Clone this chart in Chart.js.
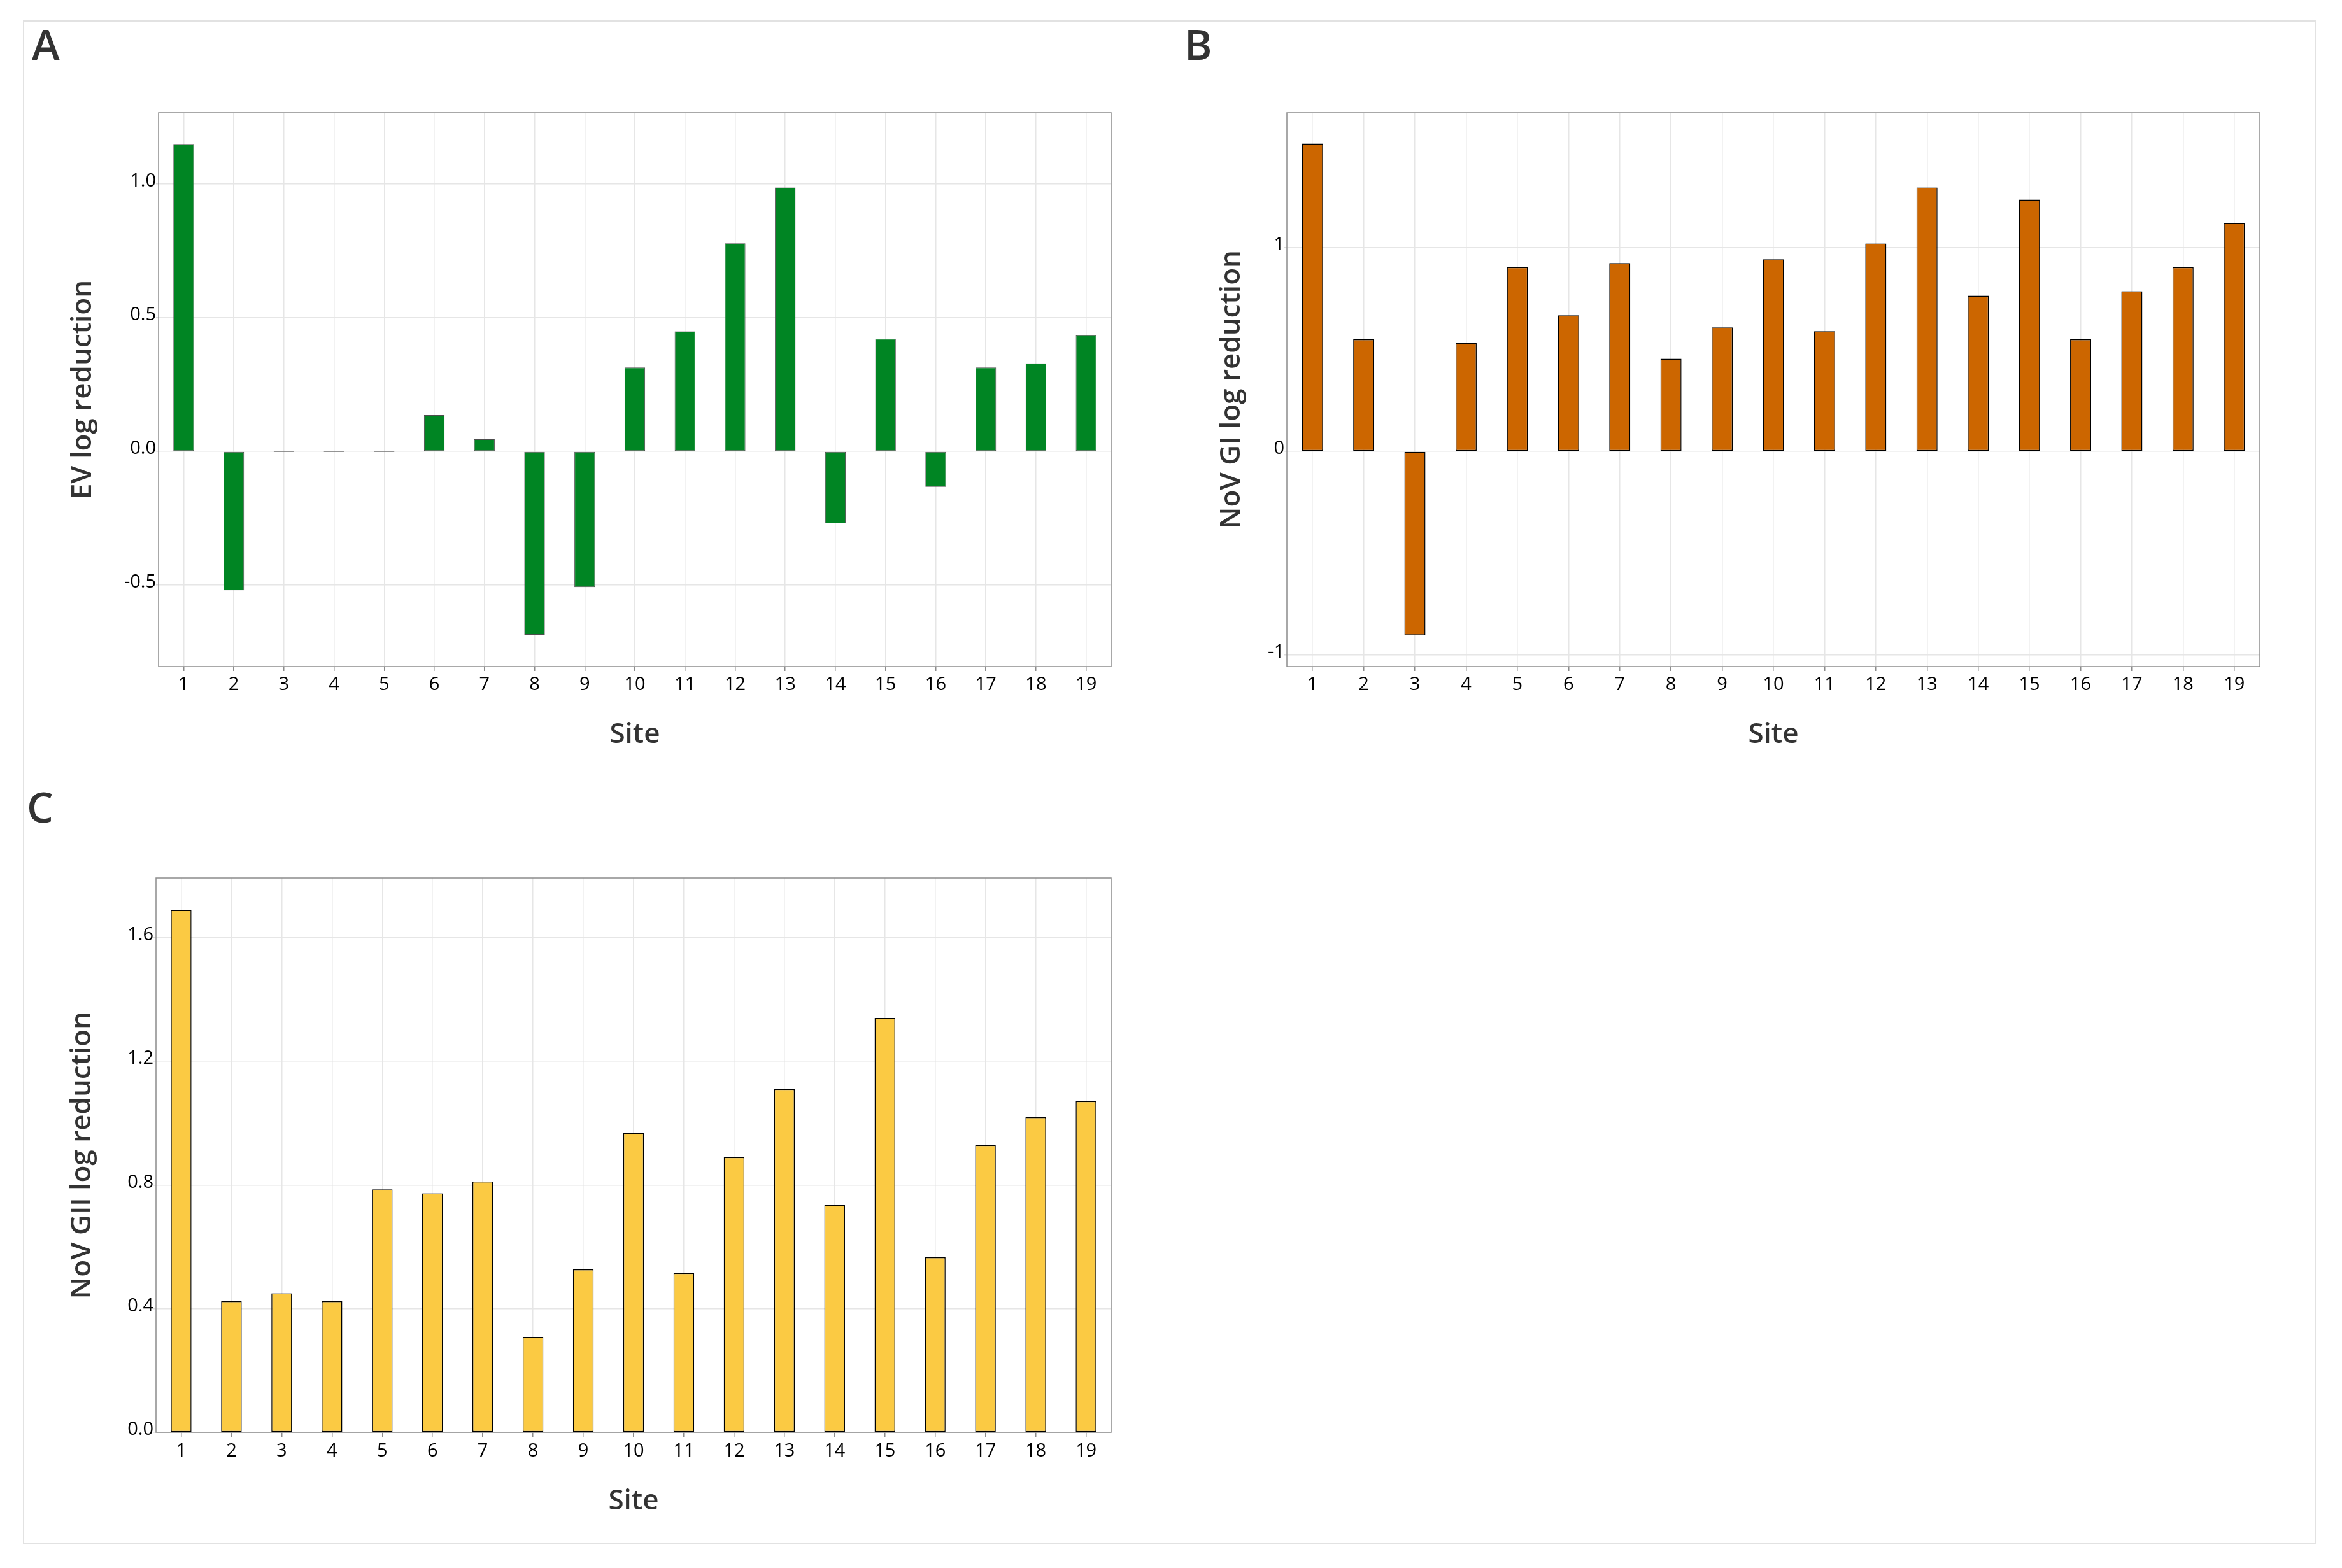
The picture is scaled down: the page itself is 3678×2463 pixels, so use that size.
<!DOCTYPE html>
<html>
<head>
<meta charset="utf-8">
<script src="https://cdn.jsdelivr.net/npm/chart.js@4.4.1/dist/chart.umd.min.js"></script>
<style>
  html, body { margin: 0; padding: 0; background: #ffffff; width: 3678px; height: 2463px; overflow: hidden; }
  .frame { position: absolute; left: 36px; top: 32px; width: 3601px; height: 2394px; border: 2px solid #e2e2e2; box-sizing: border-box; }
  .plabel { position: absolute; font-family: 'Open Sans', 'Noto Sans', sans-serif; font-weight: 600; font-size: 66px; line-height: 1; color: #333333; }
  canvas { position: absolute; }
</style>
</head>
<body>
<div class="frame"></div>
<div class="plabel" style="left:50px; top:35px;">A</div>
<div class="plabel" style="left:1860px; top:35px;">B</div>
<div class="plabel" style="left:42px; top:1233px;">C</div>
<canvas id="chartA" style="left:40px; top:140px; width:1780px; height:1080px;" width="1780" height="1080"></canvas>
<canvas id="chartB" style="left:1820px; top:140px; width:1800px; height:1080px;" width="1800" height="1080"></canvas>
<canvas id="chartC" style="left:40px; top:1340px; width:1780px; height:1080px;" width="1780" height="1080"></canvas>
<script>
// ---- data ----
const sites = ['1','2','3','4','5','6','7','8','9','10','11','12','13','14','15','16','17','18','19'];
const evValues = [1.15, -0.52, 0, 0, 0, 0.136, 0.045, -0.686, -0.508, 0.314, 0.449, 0.778, 0.987, -0.269, 0.421, -0.133, 0.314, 0.329, 0.434];
const novGIValues = [1.511, 0.550, -0.902, 0.531, 0.904, 0.668, 0.924, 0.455, 0.609, 0.943, 0.590, 1.020, 1.295, 0.764, 1.236, 0.550, 0.786, 0.904, 1.120];
const novGIIValues = [1.689, 0.424, 0.450, 0.424, 0.786, 0.773, 0.811, 0.309, 0.527, 0.968, 0.515, 0.890, 1.110, 0.735, 1.340, 0.566, 0.929, 1.019, 1.071];
const evTicks = [-0.5, 0, 0.5, 1.0];
const novGITicks = [-1, 0, 1];
const novGIITicks = [0, 0.4, 0.8, 1.2, 1.6];
const xTitle = 'Site';

Chart.defaults.font.family = "'Open Sans', 'Noto Sans', sans-serif";

const boxPlugin = {
  id: 'box',
  afterDatasetsDraw(chart) {
    const {ctx, chartArea: {left, top, right, bottom}} = chart;
    ctx.save();
    ctx.strokeStyle = '#8c8c8c';
    ctx.lineWidth = 1.5;
    ctx.strokeRect(left, top, right - left, bottom - top);
    ctx.restore();
  }
};

function makeChart(id, values, ticks, decimals, yMin, yMax, fill, border, borderWidth, yTitle, g) {
  new Chart(document.getElementById(id), {
    type: 'bar',
    data: {
      labels: sites,
      datasets: [{
        data: values,
        backgroundColor: fill,
        borderColor: border,
        borderWidth: borderWidth,
        borderSkipped: false,
        barPercentage: 0.41,
        categoryPercentage: 1.0,
        minBarLength: 1.5
      }]
    },
    plugins: [boxPlugin],
    options: {
      responsive: false,
      devicePixelRatio: 1,
      animation: false,
      layout: { padding: { top: g.padTop, right: g.padRight, left: 0, bottom: 0 } },
      plugins: { legend: { display: false }, tooltip: { enabled: false } },
      scales: {
        x: {
          type: 'category',
          offset: true,
          afterFit(scale) { scale.height = g.xHeight; },
          grid: { offset: false, color: '#e6e6e6', lineWidth: 1.5, drawTicks: true, tickLength: 7, tickColor: '#8c8c8c' },
          border: { display: false },
          ticks: { color: '#000000', font: { size: 29 }, padding: g.xTickPad, maxRotation: 0, autoSkip: false },
          title: { display: true, text: xTitle, color: '#333333', font: { size: 44, weight: '600', lineHeight: 1.2 }, padding: { top: 0, bottom: g.xTitlePad } }
        },
        y: {
          type: 'linear',
          min: yMin,
          max: yMax,
          afterFit(scale) { scale.width = g.yWidth; },
          afterBuildTicks(scale) { scale.ticks = ticks.map(v => ({ value: v })); },
          grid: { color: '#e6e6e6', lineWidth: 1.5, drawTicks: true, tickLength: 4, tickColor: '#dddddd' },
          border: { display: false },
          ticks: { color: '#000000', font: { size: 29 }, padding: 0, labelOffset: -4,
                   callback: (v) => Number(v).toFixed(decimals) },
          title: { display: true, text: yTitle, color: '#333333', font: { size: 44, weight: '600', lineHeight: 1.2 }, padding: { top: g.yTitlePad, bottom: 0 } }
        }
      }
    }
  });
}

makeChart('chartA', evValues, evTicks, 1, -0.805, 1.267, '#008523', '#4d4d4d', 1,
  'EV log reduction', { padTop: 37, padRight: 75, xHeight: 173, yWidth: 209, xTickPad: 4, xTitlePad: 39, yTitlePad: 64 });
makeChart('chartB', novGIValues, novGITicks, 0, -1.056, 1.6625, '#cc6600', '#000000', 1.5,
  'NoV GI log reduction', { padTop: 37, padRight: 71, xHeight: 173, yWidth: 201, xTickPad: 4, xTitlePad: 39, yTitlePad: 88 });
makeChart('chartC', novGIIValues, novGIITicks, 1, 0, 1.793, '#fbca43', '#000000', 1.5,
  'NoV GII log reduction', { padTop: 39, padRight: 75, xHeight: 170, yWidth: 205, xTickPad: 5, xTitlePad: 35, yTitlePad: 63 });
</script>
</body>
</html>
